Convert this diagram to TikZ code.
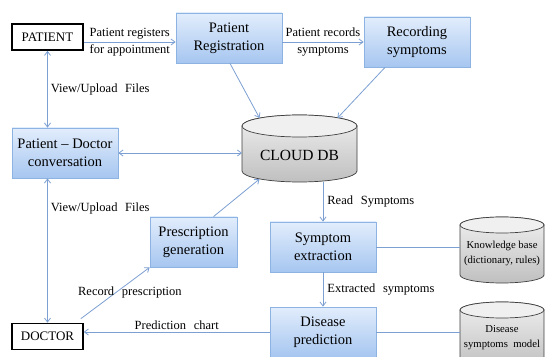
\documentclass[tikz,border=0pt]{standalone}
\usepackage{fontspec}
\setmainfont{Liberation Serif}
\newfontfamily\tnr{Liberation Serif}
\newcommand\widesp{\spaceskip=0.62em\relax}
\newcommand\midsp{\spaceskip=0.5em\relax}
\usetikzlibrary{arrows.meta,calc,shadows}
\definecolor{arrblue}{HTML}{7DA0D2}
\definecolor{boxedge}{HTML}{8DB3E2}
\definecolor{boxtop}{HTML}{E2EDFC}
\definecolor{boxbot}{HTML}{A6C6F0}
\definecolor{dbedge}{HTML}{3F3F3F}
\tikzset{
 every node/.style={font=\tnr},
 procbox/.style={draw=boxedge, line width=0.8pt, top color=boxtop, bottom color=boxbot,
   minimum width=106pt, minimum height=50pt, inner sep=2pt, align=center,
   font=\tnr\fontsize{14.5}{18}\selectfont,
   drop shadow={opacity=0.3, shadow xshift=1.2pt, shadow yshift=-1.2pt}},
 actor/.style={draw=black, line width=1.6pt, fill=white, minimum width=71pt,
   minimum height=26pt, inner sep=0pt, font=\tnr\fontsize{13}{15}\selectfont},
 arr/.style={draw=arrblue, line width=0.8pt, -{Straight Barb[length=4pt,width=6pt]}},
 darr/.style={draw=arrblue, line width=0.8pt,
   {Straight Barb[length=4pt,width=6pt]}-{Straight Barb[length=4pt,width=6pt]}},
 plainline/.style={draw=arrblue, line width=0.8pt},
 lbl/.style={font=\tnr\fontsize{12.5}{17}\selectfont, align=center, inner sep=0pt},
 wlbl/.style={font={\tnr\fontsize{12.5}{17}\selectfont\widesp}, align=center, inner sep=0pt},
 dbbody/.style={draw=dbedge, line width=0.7pt, top color=gray!12, bottom color=gray!50},
 dbcap/.style={draw=dbedge, line width=0.7pt, fill=gray!12},
 anchorbox/.style={inner sep=0pt, outer sep=0pt},
}
\begin{document}
\begin{tikzpicture}[x=1pt,y=1pt]
\useasboundingbox (0,0) rectangle (545,356);
\fill[white] (0,0) rectangle (545,356);

% CLOUD DB cylinder
\shadedraw[dbbody] (242,230) -- (242,185) arc[start angle=180,end angle=360,x radius=57.5pt,y radius=11pt]
  -- (357,230) arc[start angle=0,end angle=180,x radius=57.5pt,y radius=11pt] -- cycle;
\filldraw[dbcap] (299.5,230) ellipse[x radius=57.5pt,y radius=11pt];
\node[anchorbox, minimum width=115pt, minimum height=67pt] (db) at (299.5,207.5) {};
\node[font=\tnr\fontsize{15.5}{18}\selectfont] (dbtext) at (299.5,201) {CLOUD DB};

% Knowledge base cylinder
\shadedraw[dbbody] (460,131) -- (460,81) arc[start angle=180,end angle=360,x radius=42pt,y radius=8pt]
  -- (544,131) arc[start angle=0,end angle=180,x radius=42pt,y radius=8pt] -- cycle;
\filldraw[dbcap] (502,131) ellipse[x radius=42pt,y radius=8pt];
\node[anchorbox, minimum width=84pt, minimum height=66pt] (kb) at (502,106) {};
\node[font=\tnr\fontsize{10.7}{15}\selectfont, align=center] (kbtext) at (502,102.5) {Knowledge base\\(dictionary, rules)};

% Disease symptoms model cylinder
\shadedraw[dbbody] (460,46) -- (460,-4) arc[start angle=180,end angle=360,x radius=42pt,y radius=8pt]
  -- (544,46) arc[start angle=0,end angle=180,x radius=42pt,y radius=8pt] -- cycle;
\filldraw[dbcap] (502,46) ellipse[x radius=42pt,y radius=8pt];
\node[anchorbox, minimum width=84pt, minimum height=66pt] (dsm) at (502,21) {};
\node[font={\tnr\fontsize{10.7}{15}\selectfont\midsp}, align=center] (dsmtext) at (502,18.5) {Disease\\symptoms model};

% boxes
\node[actor] (patient) at (47.5,319) {PATIENT};
\node[actor] (doctor) at (47.5,19.5) {DOCTOR};
\node[procbox] (reg) at (229,318) {Patient\\Registration};
\node[procbox] (rec) at (417,314) {Recording\\symptoms};
\node[procbox] (conv) at (65,203) {Patient – Doctor\\conversation};
\node[procbox, minimum width=87pt] (presc) at (193.5,114) {Prescription\\generation};
\node[procbox] (se) at (323,109) {Symptom\\extraction};
\node[procbox] (dp) at (323,24) {Disease\\prediction};

% connectors
\draw[arr] ([yshift=-5pt]patient.east) -- node[lbl]{Patient registers\\for appointment} ([yshift=-4pt]reg.west);
\draw[arr] ([yshift=-4pt]reg.east) -- node[lbl]{Patient records\\symptoms} (rec.west);
\draw[arr] ($(reg.south)+(1,0)$) -- ($(db.north)+(-40,-3)$);
\draw[arr] ($(rec.south)+(-32,0)$) -- ($(db.north)+(38,-3)$);
\draw[darr] (patient.south) -- node[wlbl, right=3pt]{View/Upload Files} (patient.south |- conv.north);
\draw[darr] (conv.east) -- (conv.east -| db.west);
\draw[darr] (conv.south -| doctor.north) -- node[wlbl, pos=0.21, right=3pt]{View/Upload Files} (doctor.north);
\draw[arr] ($(presc.north)+(20,0)$) -- ($(db.south)+(-40,3)$);
\draw[arr] ($(doctor.north east)+(-3,4)$) -- node[wlbl, pos=0.714, yshift=-10pt]{Record prescription} (presc.south west);
\draw[arr] (dp.west) -- node[wlbl, above=1.5pt]{Prediction chart} (dp.west -| doctor.east);
\draw[arr] (se.north |- db.south) -- node[wlbl, right=4pt]{Read Symptoms} (se.north);
\draw[arr] (se.south) -- node[wlbl, right=4pt]{Extracted symptoms} (dp.north);
\draw[plainline] (se.east) -- (se.east -| kb.west);
\draw[plainline] (dp.east) -- (dp.east -| dsm.west);
\end{tikzpicture}
\end{document}
